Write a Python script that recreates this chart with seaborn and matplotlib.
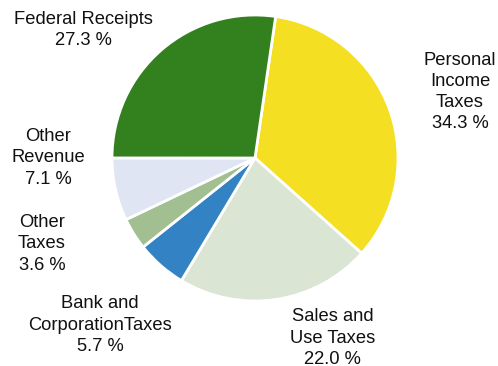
import matplotlib
matplotlib.use("Agg")
import matplotlib.pyplot as plt
import seaborn as sns

# Revenue shares, in drawing order (clockwise from the top)
categories = ["Personal\nIncome\nTaxes", "Sales and\nUse Taxes", "Bank and\nCorporationTaxes",
              "Other\nTaxes", "Other\nRevenue", "Federal Receipts"]
shares = [34.3, 22.0, 5.7, 3.6, 7.1, 27.3]
colors = ["#F5DF22", "#DBE5D4", "#3282C4", "#A2BF92", "#DFE5F2", "#33801E"]

# label anchor positions (pie radius = 1)
label_pos = [(1.434, 0.462), (0.545, -1.259), (-1.084, -1.168),
             (-1.490, -0.601), (-1.448, 0.0), (-1.203, 0.895)]

sns.set_theme(style="white")
plt.rcParams["font.family"] = ["Liberation Sans", "DejaVu Sans"]

fig = plt.figure(figsize=(4.98, 3.66), dpi=100)
ax = fig.add_axes([0, 0, 1, 1])

ax.pie(shares, colors=colors, startangle=81.7, counterclock=False,
       wedgeprops=dict(edgecolor="white", linewidth=2))

for name, val, (x, y) in zip(categories, shares, label_pos):
    ax.text(x, y, f"{name}\n{val:.1f} %", ha="center", va="center",
            fontsize=13.2, color="#111111", linespacing=1.32)

ax.set_xlim(-255 / 143, (498 - 255) / 143)
ax.set_ylim(-(366 - 158) / 143, 158 / 143)
ax.set_aspect("equal")
ax.axis("off")

fig.savefig("out.png", dpi=100, facecolor="white")
